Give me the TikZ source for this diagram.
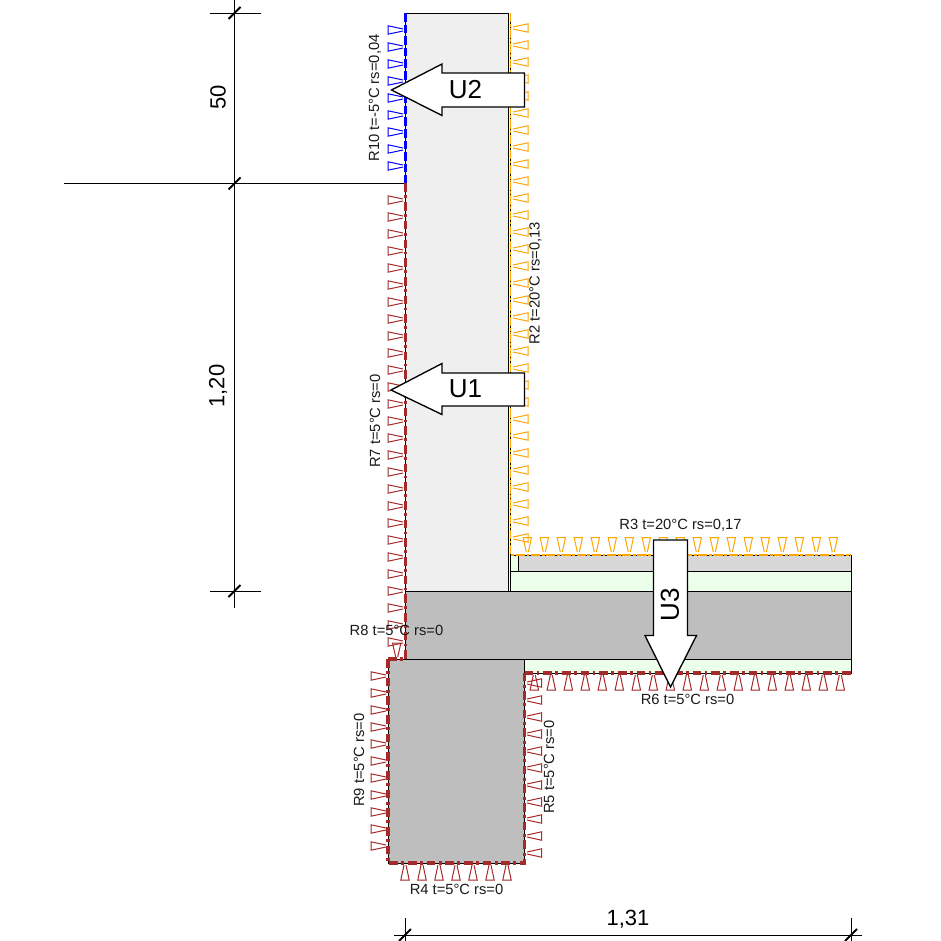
\documentclass[tikz,border=0pt]{standalone}
\usepackage{fontspec}
\setmainfont{Liberation Sans}
\definecolor{wallc}{HTML}{EFEFEF}
\definecolor{concc}{HTML}{BEBEBE}
\definecolor{screedc}{HTML}{D7D7D7}
\definecolor{insc}{HTML}{EBFFEB}
\definecolor{redb}{HTML}{A52A2A}
\definecolor{oranb}{HTML}{FFA500}
\definecolor{blueb}{HTML}{0000FF}
\tikzset{
  layer/.style={draw=black,line width=0.72pt},
  thinl/.style={draw=black,line width=0.7pt},
  tick/.style={draw=black,line width=1.5pt},
  bred/.style={draw=redb,line width=2.4pt,dash pattern=on 6.5pt off 2.5pt on 2.2pt off 2.8pt},
  bblue/.style={draw=blueb,line width=2.4pt,dash pattern=on 6.5pt off 2.2pt},
  boran/.style={draw=oranb,line width=1pt,dash pattern=on 7pt off 1.2pt on 2pt off 1.2pt},
  tri/.style={line width=0.75pt,fill=none},
  ublock/.style={draw=black,fill=white,line width=1pt},
  lab/.style={font=\fontsize{11.05pt}{12pt}\selectfont,inner sep=0pt,text=black!90},
  ulab/.style={font=\fontsize{19.5pt}{20pt}\selectfont,inner sep=0pt},
  dimlab/.style={font=\fontsize{16.5pt}{17pt}\selectfont,inner sep=0pt}
}
\begin{document}
\begin{tikzpicture}[x=0.75pt,y=-0.75pt]
\useasboundingbox (0,0) rectangle (941,941);
% materials
\path[layer,fill=wallc] (405.5,13) rectangle (508,591);
\path[layer,fill=insc] (510.5,571) rectangle (851,591);
\path[layer,fill=screedc] (518,555) rectangle (851,571);
\path[layer,fill=insc] (510.5,555) rectangle (518,571);
\path[layer,fill=concc] (405.5,591) rectangle (851,659);
\path[layer,fill=insc] (524.5,659) rectangle (851,673);
\path[layer,fill=concc] (388,659) rectangle (524.5,863);
\draw[thinl] (510.5,13) -- (510.5,555);
% dimensions
\coordinate (dt) at (234.5,13);
\coordinate (dm) at (234.5,183.5);
\coordinate (db) at (234.5,591);
\coordinate (dl) at (405,935);
\coordinate (dr) at (851,935);
\draw[thinl] (234.5,0) -- (234.5,608);
\draw[thinl] (210,13) -- (261,13);
\draw[thinl] (64,183.5) -- (405.5,183.5);
\draw[thinl] (210,591) -- (261,591);
\draw[thinl] (394,935) -- (862,935);
\draw[thinl] (dl) ++(0,-17) -- ++(0,23);
\draw[thinl] (dr) ++(0,-17) -- ++(0,23);
\foreach \p in {dt,dm,db,dl,dr} \draw[tick] (\p) ++(-6,6) -- ++(12,-12);
% boundary lines
\draw[bblue] (405.5,13) -- (405.5,183.5);
\draw[bred] (405.5,183.5) -- (405.5,659);
\draw[bred] (388,659) -- (405.5,659);
\draw[bred] (388,659) -- (388,863) -- (524.5,863) -- (524.5,673);
\draw[bred] (524.5,673) -- (851,673);
\draw[boran] (510.5,13) -- (510.5,555) -- (851,555);
% boundary triangles
\foreach \k in {0,...,8}
  \draw[tri,blueb] (403,30+17*\k-1) -- (388,30+17*\k-4.2) -- (388,30+17*\k+4.2) -- (403,30+17*\k+1);
\foreach \k in {0,...,26}
  \draw[tri,redb] (403,200+17*\k-1) -- (388,200+17*\k-4.2) -- (388,200+17*\k+4.2) -- (403,200+17*\k+1);
\foreach \k in {0,...,30}
  \draw[tri,oranb] (513,28+17*\k-1) -- (528,28+17*\k-4.2) -- (528,28+17*\k+4.2) -- (513,28+17*\k+1);
\foreach \k in {0,...,18}
  \draw[tri,oranb] (527.3+17*\k-1,552) -- (527.3+17*\k-4.2,537.5) -- (527.3+17*\k+4.2,537.5) -- (527.3+17*\k+1,552);
\foreach \k in {0,...,18}
  \draw[tri,redb] (534.3+17*\k-1,675) -- (534.3+17*\k-4.2,690) -- (534.3+17*\k+4.2,690) -- (534.3+17*\k+1,675);
\foreach \k in {0,...,10}
  \draw[tri,redb] (527,683+17*\k-1) -- (541.5,683+17*\k-4.2) -- (541.5,683+17*\k+4.2) -- (527,683+17*\k+1);
\foreach \k in {0,...,10}
  \draw[tri,redb] (386,676+17*\k-1) -- (371,676+17*\k-4.2) -- (371,676+17*\k+4.2) -- (386,676+17*\k+1);
\foreach \k in {0,...,6}
  \draw[tri,redb] (405+17*\k-1,865) -- (405+17*\k-4.2,880) -- (405+17*\k+4.2,880) -- (405+17*\k+1,865);
\draw[tri,redb] (395.7,657) -- (392.5,643) -- (400.9,643) -- (397.7,657);
% U arrows
\path[ublock] (391.5,90) -- (442,64) -- (442,73) -- (524.5,73) -- (524.5,107) -- (442,107) -- (442,115.5) -- cycle;
\path[ublock] (391,390) -- (442,363.5) -- (442,373) -- (524.5,373) -- (524.5,406) -- (442,406) -- (442,414.5) -- cycle;
\path[ublock] (653.5,540) -- (687.5,540) -- (687.5,635.5) -- (696.5,635.5) -- (670.5,687) -- (645,635.5) -- (653.5,635.5) -- cycle;
\node[ulab] (u2) at (465.5,90) {U2};
\node[ulab] (u1) at (465.5,389) {U1};
\node[ulab,rotate=90] (u3) at (670,605) {U3};
% labels
\node[lab,rotate=90] (r10) at (375,98) {R10 t=-5°C rs=0,04};
\node[lab,rotate=90] (r7) at (375,421) {R7 t=5°C rs=0};
\node[lab,rotate=90] (r2) at (535.5,283) {R2 t=20°C rs=0,13};
\node[lab] (r3) at (680.5,525) {R3 t=20°C rs=0,17};
\node[lab] (r8) at (396.5,630) {R8 t=5°C rs=0};
\node[lab] (r6) at (687.5,699) {R6 t=5°C rs=0};
\node[lab,rotate=90] (r9) at (359,760) {R9 t=5°C rs=0};
\node[lab,rotate=90] (r5) at (549,767) {R5 t=5°C rs=0};
\node[lab] (r4) at (456.5,889) {R4 t=5°C rs=0};
\node[dimlab,rotate=90] (d50) at (218,97) {50};
\node[dimlab,rotate=90] (d120) at (218,386) {1,20};
\node[dimlab] (d131) at (628,919) {1,31};
\end{tikzpicture}
\end{document}
